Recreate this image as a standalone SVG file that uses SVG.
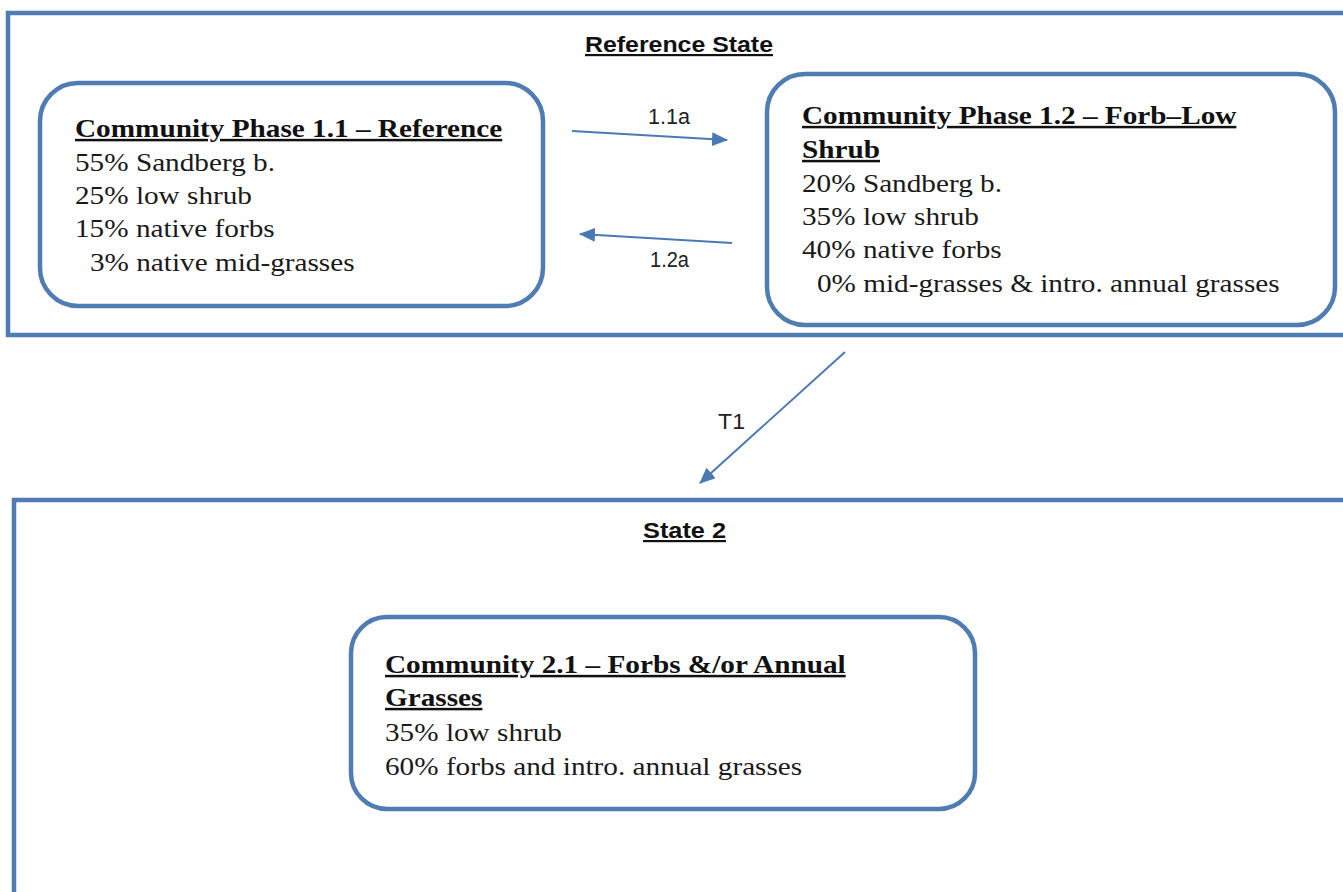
<svg xmlns="http://www.w3.org/2000/svg" width="1343" height="892" viewBox="0 0 1343 892">
<style>
.state{fill:none;stroke:#4f7cb2;stroke-width:4.5}
.node{fill:#ffffff;stroke:#4f7cb2;stroke-width:4.5}
.ttl{font-family:"Liberation Serif","Times New Roman",serif;font-size:25px;font-weight:bold;fill:#111;text-decoration:underline}
.txt{font-family:"Liberation Serif","Times New Roman",serif;font-size:25px;fill:#1a1a1a}
.lbl{font-family:"Liberation Sans",Arial,sans-serif;font-size:22px;fill:#222}
.shd{font-family:"Liberation Sans",Arial,sans-serif;font-size:22px;font-weight:bold;fill:#111;text-decoration:underline}
.conn{stroke:#4a7ab4;stroke-width:2;fill:none}
</style>
<defs>
<marker id="ahb" markerWidth="16" markerHeight="14" refX="15" refY="7" orient="auto" markerUnits="userSpaceOnUse" viewBox="0 0 16 14">
<path d="M0,0 L16,7 L0,14 z" fill="#4a7ab4"/>
</marker>
</defs>
<rect width="1343" height="892" fill="#ffffff"/>

<g id="state-reference">
<rect class="state" x="8" y="13" width="1345" height="322"/>
<text class="shd" x="585" y="52" textLength="188" lengthAdjust="spacingAndGlyphs">Reference State</text>
</g>

<g id="state-2">
<rect class="state" x="14" y="500" width="1345" height="420"/>
<text class="shd" x="643" y="538" textLength="83" lengthAdjust="spacingAndGlyphs">State 2</text>
</g>

<g id="phase-1-1">
<rect class="node" x="40" y="83" width="503" height="223" rx="38" ry="38"/>
<g transform="translate(75,0) scale(1.17,1)">
<text class="ttl" x="0" y="137">Community Phase 1.1 – Reference</text>
<text class="txt" x="0" y="171">55% Sandberg b.</text>
<text class="txt" x="0" y="204">25% low shrub</text>
<text class="txt" x="0" y="237">15% native forbs</text>
<text class="txt" x="12.8" y="271">3% native mid-grasses</text>
</g>
</g>

<g id="phase-1-2">
<rect class="node" x="767" y="74" width="568" height="251" rx="38" ry="38"/>
<g transform="translate(802,0) scale(1.17,1)">
<text class="ttl" x="0" y="124">Community Phase 1.2 – Forb–Low</text>
<text class="ttl" x="0" y="158">Shrub</text>
<text class="txt" x="0" y="192">20% Sandberg b.</text>
<text class="txt" x="0" y="225">35% low shrub</text>
<text class="txt" x="0" y="258">40% native forbs</text>
<text class="txt" x="12.8" y="292">0% mid-grasses &amp; intro. annual grasses</text>
</g>
</g>

<g id="community-2-1">
<rect class="node" x="351" y="617" width="624" height="192" rx="36" ry="36"/>
<g transform="translate(385,0) scale(1.17,1)">
<text class="ttl" x="0" y="673">Community 2.1 – Forbs &amp;/or Annual</text>
<text class="ttl" x="0" y="706">Grasses</text>
<text class="txt" x="0" y="741">35% low shrub</text>
<text class="txt" x="0" y="775">60% forbs and intro. annual grasses</text>
</g>
</g>

<g id="connectors">
<line class="conn" x1="572" y1="131" x2="727" y2="140" marker-end="url(#ahb)"/>
<line class="conn" x1="732" y1="243" x2="580" y2="234" marker-end="url(#ahb)"/>
<line class="conn" x1="845" y1="352" x2="700" y2="483" marker-end="url(#ahb)"/>
<text class="lbl" x="648" y="124" textLength="42" lengthAdjust="spacingAndGlyphs">1.1a</text>
<text class="lbl" x="650" y="267" textLength="39" lengthAdjust="spacingAndGlyphs">1.2a</text>
<text class="lbl" x="718" y="429" textLength="27" lengthAdjust="spacingAndGlyphs">T1</text>
</g>
</svg>
